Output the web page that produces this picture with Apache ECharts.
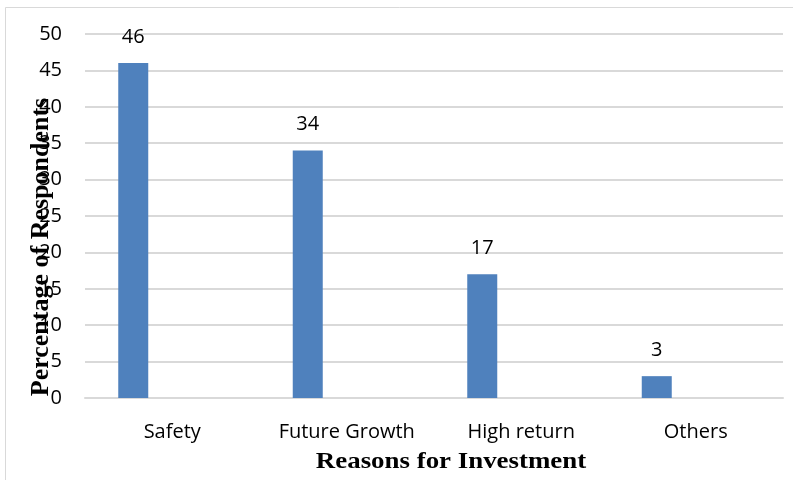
<!DOCTYPE html>
<html>
<head>
<meta charset="utf-8">
<script src="https://cdn.jsdelivr.net/npm/echarts@6/dist/echarts.min.js"></script>
<style>
  html, body { margin: 0; padding: 0; background: #fff; }
  #chart { width: 793px; height: 480px; }
</style>
</head>
<body>
<div id="chart"></div>
<script>
// Reasons for investment survey results
const categories = ['Safety', 'Future Growth', 'High return', 'Others'];
const percentages = [46, 34, 17, 3];
const yMin = 0, yMax = 50, yStep = 5;
const xTitle = 'Reasons for Investment';
const yTitle = 'Percentage of Respondents';

const chart = echarts.init(document.getElementById('chart'), null, { renderer: 'canvas' });

const labelFont = '"Open Sans", "Noto Sans", sans-serif';
const titleFont = '"Liberation Serif", "Times New Roman", serif';

chart.setOption({
  animation: false,
  backgroundColor: '#fff',
  graphic: [{
    type: 'rect',
    shape: { x: 5.5, y: 7.5, width: 800, height: 500 },
    style: { fill: 'none', stroke: '#d9d9d9', lineWidth: 1 },
    silent: true
  }, {
    // vertical axis title, drawn over the tick labels
    type: 'text',
    x: 41, y: 247,
    rotation: Math.PI / 2,
    z: 100,
    style: {
      text: yTitle,
      fill: '#000',
      font: 'bold 26px ' + titleFont,
      textAlign: 'center',
      textVerticalAlign: 'middle'
    },
    silent: true
  }, {
    type: 'text',
    x: 451, y: 462,
    scaleX: 1.12,
    z: 100,
    style: {
      text: xTitle,
      fill: '#000',
      font: 'bold 24px ' + titleFont,
      textAlign: 'center',
      textVerticalAlign: 'middle'
    },
    silent: true
  }],
  grid: { left: 85, right: 10, top: 34, bottom: 82 },
  xAxis: {
    type: 'category',
    data: categories,
    axisLine: { show: true, lineStyle: { color: '#d9d9d9', width: 2 } },
    axisTick: { show: false },
    axisLabel: { color: '#000', fontFamily: labelFont, fontSize: 20, margin: 24, interval: 0 }
  },
  yAxis: {
    type: 'value',
    min: yMin, max: yMax, interval: yStep,
    axisLine: { show: false },
    axisTick: { show: false },
    splitLine: { lineStyle: { color: '#d9d9d9', width: 2 } },
    axisLabel: { color: '#000', fontFamily: labelFont, fontSize: 20, margin: 23 }
  },
  series: [{
    type: 'bar',
    data: percentages,
    barWidth: 30,
    barGap: '160%',
    itemStyle: { color: '#4f81bd' },
    label: {
      show: true, position: 'top', distance: 16,
      color: '#000', fontFamily: labelFont, fontSize: 20
    }
  }, {
    type: 'bar',
    data: [],
    barWidth: 30
  }]
});
</script>
</body>
</html>
